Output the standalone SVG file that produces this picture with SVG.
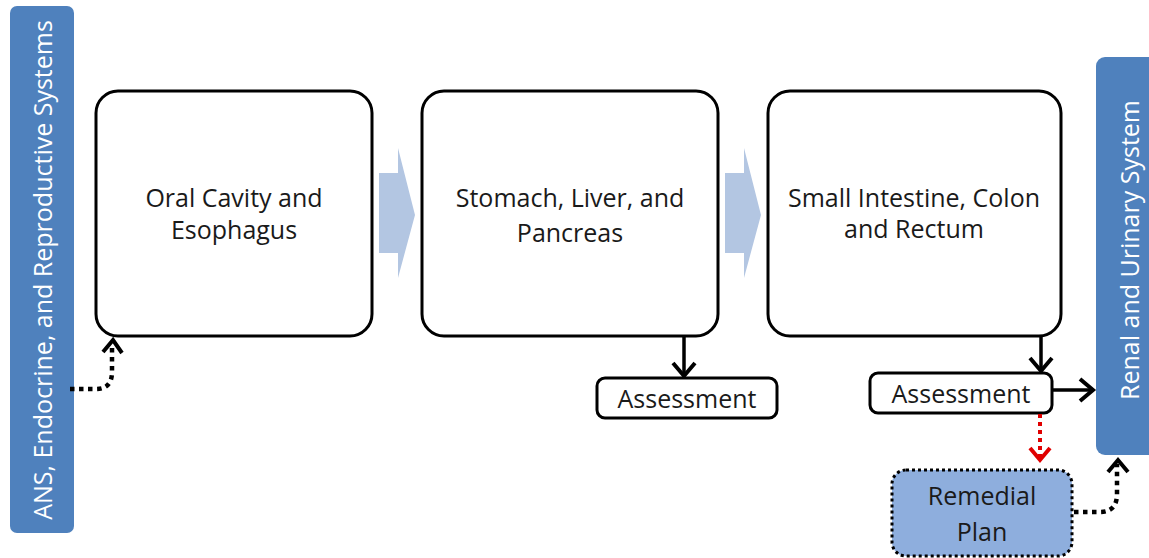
<svg xmlns="http://www.w3.org/2000/svg" width="1149" height="558" viewBox="0 0 1149 558">
<style>
.box{fill:#fff;stroke:#000;stroke-width:3}
.bar{fill:#4F81BD}
.chev{fill:#B3C6E2}
.t{font-family:"Open Sans","Liberation Sans",sans-serif;font-size:25px;fill:#1a1a1a;text-anchor:middle}
.tw{font-family:"Open Sans","Liberation Sans",sans-serif;font-size:25px;fill:#fff;text-anchor:middle}
.ln{fill:none;stroke:#000;stroke-width:3.5}
.hd{fill:none;stroke:#000;stroke-width:4;stroke-linejoin:miter}
.dot{fill:none;stroke:#000;stroke-width:4.5;stroke-dasharray:4.5 4.5}
</style>
<rect width="1149" height="558" fill="#fff"/>
<g id="ans">
<rect class="bar" x="10" y="6" width="64" height="527" rx="7"/>
<text class="tw" transform="translate(52,270) rotate(-90)">ANS, Endocrine, and Reproductive Systems</text>
</g>
<g id="renal">
<rect class="bar" x="1096" y="57" width="70" height="398" rx="9"/>
<text class="tw" transform="translate(1139,250) rotate(-90)">Renal and Urinary System</text>
</g>
<g id="oral">
<rect class="box" x="96" y="91" width="276" height="245" rx="22"/>
<text class="t" x="234" y="207">Oral Cavity and</text>
<text class="t" x="234" y="239">Esophagus</text>
</g>
<g id="stomach">
<rect class="box" x="422" y="91" width="296" height="245" rx="22"/>
<text class="t" x="570" y="207">Stomach, Liver, and</text>
<text class="t" x="570" y="242">Pancreas</text>
</g>
<g id="intestine">
<rect class="box" x="768" y="91" width="293" height="245" rx="22"/>
<text class="t" x="914" y="207">Small Intestine, Colon</text>
<text class="t" x="914" y="238">and Rectum</text>
</g>
<g id="chevrons">
<path class="chev" d="M379,173 L398,173 L398,148 L415,215 L398,278 L398,253 L379,253 Z"/>
<path class="chev" d="M725,173 L744,173 L744,148 L761,215 L744,278 L744,253 L725,253 Z"/>
</g>
<g id="assess1">
<rect class="box" x="597" y="378" width="180" height="40" rx="8"/>
<text class="t" x="687" y="408">Assessment</text>
</g>
<g id="assess2">
<rect class="box" x="870" y="373" width="182" height="40" rx="8"/>
<text class="t" x="961" y="403">Assessment</text>
</g>
<g id="remedial">
<rect x="892" y="470" width="180" height="86" rx="14" fill="#8EAEDD" stroke="#000" stroke-width="3" stroke-dasharray="3 3"/>
<text class="t" x="982" y="505">Remedial</text>
<text class="t" x="982" y="541">Plan</text>
</g>
<g id="connectors">
<line class="ln" x1="684" y1="336" x2="684" y2="375"/>
<path class="hd" d="M673,363 L684,376 L695,363"/>
<line class="ln" x1="1041" y1="336" x2="1041" y2="370"/>
<path class="hd" d="M1030,358 L1041,371 L1052,358"/>
<line class="ln" x1="1052" y1="390" x2="1092" y2="390"/>
<path class="hd" d="M1080,379 L1093,390 L1080,401"/>
<line x1="1040" y1="414" x2="1040" y2="458" fill="none" stroke="#E00000" stroke-width="4" stroke-dasharray="4 4"/>
<path d="M1030,448 L1040,460 L1050,448" fill="none" stroke="#E00000" stroke-width="4"/>
<path class="dot" d="M70,389 L96,389 Q112,389 112,372 L112,344"/>
<path class="hd" d="M103,352 L113,340 L122,353" stroke-width="4.5"/>
<path class="dot" d="M1074,512 L1100,512 Q1117,512 1117,494 L1117,464"/>
<path class="hd" d="M1108,472 L1118,460 L1128,472" stroke-width="4.5"/>
</g>
</svg>
